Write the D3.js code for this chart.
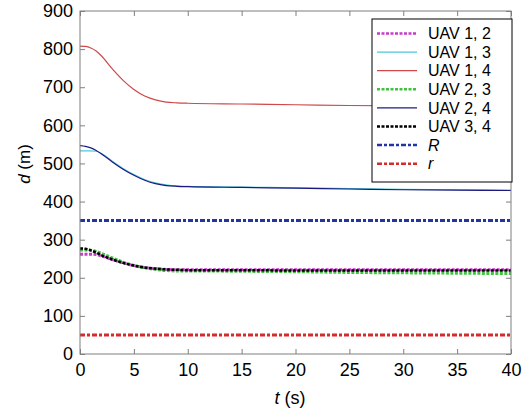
<!DOCTYPE html>
<html><head><meta charset="utf-8">
<script src="https://cdn.jsdelivr.net/npm/d3@7"></script>
<style>
html,body{margin:0;padding:0;background:#fff;}
svg{display:block;font-family:Arial,"Liberation Sans",sans-serif;}
</style></head>
<body><svg id="c" width="526" height="412"></svg>
<script>
// time samples (s)
const time = [0,0.5,1,1.5,2,3,4,5,6,7,8,9,10,15,20,25,30,35,40];
// distances (m)
const uav12 = [262,262,262,261,257,248,239,232,227,224,222,221,221,221,221,221,221,221,221];
const uav13 = [533,533,533,532,526,506,487,471,458,449,444,441,440,438,436,434,432,431,430];
const uav14 = [808,807,803,795,782,748,718,694,677,667,661,659,658,656,654,652,651,650,647];
const uav23 = [273,273,272,269,264,252,241,232,226,222,219,218,218,217,216,214,213,212,211];
const uav24 = [547,545,541,534,525,504,485,469,456,447,442,440,439,437,435,433,431,430,429];
const uav34 = [277,276,272,266,259,248,239,232,227,224,222,221,220,220,219,219,219,219,219];
const bigR = 350;
const smallR = 50;
const xTicks = [0,5,10,15,20,25,30,35,40];
const yTicks = [0,100,200,300,400,500,600,700,800,900];
const legendLabels = ["UAV 1, 2","UAV 1, 3","UAV 1, 4","UAV 2, 3","UAV 2, 4","UAV 3, 4","R","r"];

const svg = d3.select("#c");
const L=80, R=511, T=11, B=354;
const x = d3.scaleLinear().domain([0,40]).range([L,R]);
const y = d3.scaleLinear().domain([0,900]).range([B,T]);

const styles = [
  {data:uav12, color:"#c83cc8", w:3, dash:"3,1.5"},
  {data:uav13, color:"#4cc8d8", w:1.2, dash:null},
  {data:uav14, color:"#d04848", w:1.2, dash:null},
  {data:uav23, color:"#44c044", w:3, dash:"3,1.5"},
  {data:uav24, color:"#1c1c80", w:1.2, dash:null},
  {data:uav34, color:"#000000", w:2.5, dash:"3,1.5"},
  {data:null, val:bigR, color:"#2434a4", w:3, dash:"5,2,3,2"},
  {data:null, val:smallR, color:"#d42c2c", w:3, dash:"5,2,3,2"}
];

svg.append("clipPath").attr("id","clip").append("rect")
  .attr("x",L).attr("y",T).attr("width",R-L).attr("height",B-T);

const g = svg.append("g").attr("clip-path","url(#clip)");
const line = d3.line().x(d=>x(d[0])).y(d=>y(d[1])).curve(d3.curveMonotoneX);

[6,7].forEach(i=>{
  const s=styles[i];
  g.append("path").attr("d", line([[0,s.val],[40,s.val]]))
   .attr("fill","none").attr("stroke",s.color).attr("stroke-width",s.w)
   .attr("stroke-dasharray",s.dash);
});
[1,4,2,0,3,5].forEach(i=>{
  const s=styles[i];
  g.append("path").attr("d", line(time.map((t,k)=>[t,s.data[k]])))
   .attr("fill","none").attr("stroke",s.color).attr("stroke-width",s.w)
   .attr("stroke-dasharray",s.dash);
});

// axes
const axCol="#7f7f7f";
const tl=5;
svg.append("rect").attr("x",L).attr("y",T).attr("width",R-L).attr("height",B-T)
  .attr("fill","none").attr("stroke",axCol).attr("stroke-width",1);
const xb = svg.append("g").attr("transform",`translate(0,${B})`)
  .call(d3.axisBottom(x).tickValues(xTicks).tickSizeInner(-tl).tickSizeOuter(0).tickPadding(9));
const xt = svg.append("g").attr("transform",`translate(0,${T})`)
  .call(d3.axisTop(x).tickValues(xTicks).tickSizeInner(-tl).tickSizeOuter(0).tickFormat(""));
const yl = svg.append("g").attr("transform",`translate(${L},0)`)
  .call(d3.axisLeft(y).tickValues(yTicks).tickSizeInner(-tl).tickSizeOuter(0).tickPadding(7));
const yr = svg.append("g").attr("transform",`translate(${R},0)`)
  .call(d3.axisRight(y).tickValues(yTicks).tickSizeInner(-tl).tickSizeOuter(0).tickFormat(""));
[xb,xt,yl,yr].forEach(a=>{
  a.select(".domain").remove();
  a.selectAll(".tick line").attr("stroke",axCol);
  a.selectAll(".tick text").attr("fill","#000").style("font-size","18px")
   .style("font-family","Arial,'Liberation Sans',sans-serif");
});

// axis labels
const xl = svg.append("text").attr("x",290).attr("y",404).attr("text-anchor","middle")
  .style("font-size","18px");
xl.append("tspan").style("font-style","italic").text("t");
xl.append("tspan").text(" (s)");
const ylab = svg.append("text").attr("transform","translate(30,164) rotate(-90)")
  .attr("text-anchor","middle").style("font-size","17px");
ylab.append("tspan").style("font-style","italic").text("d");
ylab.append("tspan").text(" (m)");

// legend
const lg = svg.append("g");
const lx0=372, ly0=19, lw=140, lh=163;
lg.append("rect").attr("x",lx0).attr("y",ly0).attr("width",lw).attr("height",lh)
  .attr("fill","#fff").attr("stroke","#000").attr("stroke-width",1);
legendLabels.forEach((lab,i)=>{
  const s=styles[i];
  const yy = 33.5 + i*18.6;
  lg.append("line").attr("x1",377).attr("x2",417).attr("y1",yy).attr("y2",yy)
    .attr("stroke",s.color).attr("stroke-width",s.w>2?2.5:1.2).attr("stroke-dasharray",s.dash);
  const t = lg.append("text").attr("x",428).attr("y",yy).attr("dy","0.36em")
    .style("font-size","16px").text(lab);
  if(i>=6) t.style("font-style","italic");
});
</script></body></html>
